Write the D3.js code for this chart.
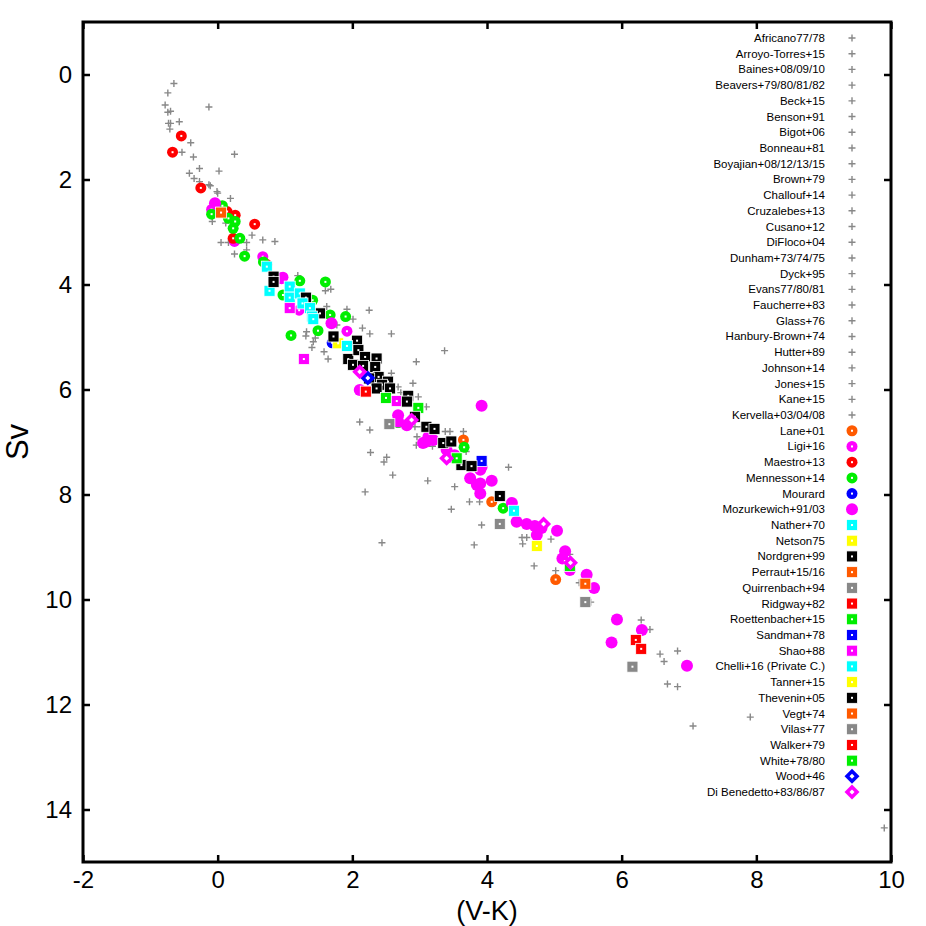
<!DOCTYPE html>
<html>
<head>
<meta charset="utf-8">
<script src="https://cdn.jsdelivr.net/npm/d3@7/dist/d3.min.js"></script>
<style>
  body { margin: 0; background: #fff; }
  svg { font-family: "Liberation Sans", Arial, sans-serif; }
</style>
</head>
<body>
<div id="chart"></div>
<script>
// ---- data: (V-K), Sv ----
const plusSeriesNames = [
  "Africano77/78", "Arroyo-Torres+15", "Baines+08/09/10", "Beavers+79/80/81/82",
  "Beck+15", "Benson+91", "Bigot+06", "Bonneau+81", "Boyajian+08/12/13/15",
  "Brown+79", "Challouf+14", "Cruzalebes+13", "Cusano+12", "DiFloco+04",
  "Dunham+73/74/75", "Dyck+95", "Evans77/80/81", "Faucherre+83", "Glass+76",
  "Hanbury-Brown+74", "Hutter+89", "Johnson+14", "Jones+15", "Kane+15",
  "Kervella+03/04/08"
];

// all grey "+" points of the series above
const plusPoints = [
  [-0.65, 0.17], [-0.74, 0.35], [-0.78, 0.58], [-0.74, 0.72], [-0.70, 0.70],
  [-0.73, 0.93], [-0.70, 0.93], [-0.57, 0.90], [-0.71, 1.04], [-0.13, 0.62],
  [-0.40, 1.30], [-0.53, 1.48], [-0.36, 1.57], [0.25, 1.52], [-0.27, 1.79],
  [-0.42, 1.88], [-0.35, 1.98], [-0.27, 2.04], [0.02, 1.84], [-0.13, 2.10],
  [-0.11, 2.12], [-0.01, 2.23], [0.00, 2.26], [0.19, 2.36], [-0.08, 2.80],
  [0.12, 2.83], [0.51, 3.06], [0.67, 3.15], [0.85, 3.18], [0.05, 3.20],
  [0.16, 3.20], [0.43, 3.20], [0.43, 3.34], [0.25, 3.42], [1.19, 3.83],
  [1.60, 4.12], [1.68, 4.09], [1.62, 4.42], [1.92, 4.47], [2.25, 4.49],
  [2.01, 4.66], [1.32, 4.90], [1.31, 4.98], [1.45, 5.02], [1.42, 5.09],
  [1.40, 5.20], [1.58, 5.28], [1.64, 5.42], [1.77, 4.77], [2.15, 4.83],
  [2.26, 4.94], [2.58, 4.94], [3.37, 5.26], [2.95, 5.47], [2.11, 6.62],
  [2.26, 6.77], [2.27, 7.20], [2.51, 7.29], [2.47, 7.38], [2.60, 7.63],
  [2.19, 7.95], [2.44, 8.92], [3.12, 7.74], [2.68, 5.95], [2.90, 5.88],
  [2.98, 6.14], [2.58, 5.69], [3.10, 6.33], [2.72, 6.06], [2.93, 6.71],
  [3.03, 6.71], [2.96, 6.90], [2.95, 7.06], [3.19, 7.08], [3.38, 6.80],
  [3.45, 6.80], [3.65, 6.80], [3.69, 7.18], [3.52, 7.85], [4.32, 7.48],
  [3.74, 8.14], [3.89, 8.14], [3.47, 8.28], [3.92, 8.58], [3.81, 8.96],
  [4.52, 8.82], [4.59, 8.82], [4.53, 8.94], [4.95, 8.85], [4.70, 9.36],
  [5.02, 9.45], [5.23, 9.14], [5.37, 9.68], [5.54, 10.05], [6.29, 10.39],
  [6.42, 10.57], [6.57, 11.04], [6.63, 11.18], [6.83, 10.98], [6.68, 11.61],
  [6.83, 11.66], [7.06, 12.41], [7.91, 12.24], [9.90, 14.35]
];

const lane = [[3.65, 6.96], [4.07, 8.14], [5.02, 9.62]];
const ligi = [[-0.09, 2.57], [0.25, 3.18], [0.67, 3.47], [0.97, 3.86], [1.21, 4.49], [1.92, 4.89]];
const maestro = [[-0.54, 1.17], [-0.67, 1.48], [-0.25, 2.16], [0.26, 2.68], [0.55, 2.85],
  [0.14, 2.61], [0.23, 3.12], [0.73, 3.62]];
const mennesson = [[0.07, 2.50], [0.16, 2.74], [0.26, 2.80], [0.23, 2.93], [-0.09, 2.66],
  [0.33, 3.12], [0.40, 3.46], [0.68, 3.57], [1.22, 3.93], [1.60, 3.95], [0.97, 4.20],
  [1.67, 4.58], [1.41, 4.30], [1.90, 4.61], [1.09, 4.97], [1.49, 4.88], [2.68, 6.63],
  [3.66, 7.10], [4.24, 8.26]];
const mourard = [[1.70, 5.11]];
const mozurkewich = [[-0.04, 2.45], [0.95, 3.88], [1.69, 4.74], [2.11, 6.01], [2.68, 6.49],
  [2.68, 6.61], [2.81, 6.68], [3.10, 6.99], [3.13, 6.90], [3.05, 7.02], [3.20, 6.96],
  [3.40, 7.15], [3.45, 7.28], [3.52, 7.25], [3.92, 6.31], [3.92, 7.47], [3.90, 7.53],
  [3.75, 7.69], [3.90, 7.79], [4.07, 7.74], [3.85, 7.82], [3.90, 7.98], [4.37, 8.16],
  [4.44, 8.52], [4.59, 8.56], [4.71, 8.60], [4.81, 8.64], [4.74, 8.77], [5.04, 8.69],
  [5.16, 9.08], [5.12, 9.22], [5.23, 9.44], [5.48, 9.53], [5.59, 9.78], [5.93, 10.38],
  [6.30, 10.58], [5.85, 10.82], [6.97, 11.26]];
const nather = [[0.73, 3.66], [0.77, 4.12], [1.07, 4.04], [1.07, 4.25], [1.22, 4.17]];
const netson = [[1.79, 5.12]];
const nordgren = [[0.83, 3.85], [0.83, 3.95], [1.31, 4.25], [1.52, 4.55], [1.72, 4.99],
  [2.07, 5.07], [1.94, 5.42], [2.09, 5.25], [2.19, 5.38], [2.36, 5.41], [2.01, 5.53],
  [2.16, 5.55], [2.34, 5.57], [2.39, 5.76], [2.53, 5.85], [2.44, 5.91], [2.25, 5.79],
  [2.56, 5.98], [2.36, 5.98]];
const perraut = [[0.05, 2.63]];
const quirrenbach = [[2.55, 6.66], [6.16, 11.28]];
const ridgway = [[6.21, 10.77], [6.29, 10.94]];
const roettenbacher = [[2.50, 6.16], [2.98, 6.35]];
const sandman = [[3.92, 7.36]];
const shao = [[1.07, 4.45], [1.28, 5.42], [2.66, 6.22]];
const chelli = [[1.26, 4.36], [1.37, 4.45], [1.40, 4.61], [1.42, 4.66], [1.92, 5.17], [4.40, 8.31]];
const tanner = [[4.74, 8.98]];
const thevenin = [[2.83, 6.12], [2.81, 6.23], [2.93, 6.52], [3.10, 6.71], [3.22, 6.75],
  [3.35, 7.02], [3.47, 6.99], [3.62, 7.44], [3.77, 7.46], [4.19, 8.03]];
const vegt = [[5.46, 9.70]];
const vilas = [[4.19, 8.56], [5.46, 10.05]];
const walker = [[2.20, 6.04]];
const white = [[3.55, 7.31], [5.23, 9.36]];
const wood = [[2.23, 5.78]];
const diBenedetto = [[2.11, 5.66], [2.88, 6.58], [3.40, 7.31], [4.84, 8.56], [5.24, 9.30]];

const xTicks = [-2, 0, 2, 4, 6, 8, 10];
const yTicks = [0, 2, 4, 6, 8, 10, 12, 14];

// ---- series table (legend order = draw order) ----
const series = plusSeriesNames.map((name, i) => ({
  name, data: i === 0 ? plusPoints : [], shape: "plus", color: "#888888"
})).concat([
  { name: "Lane+01", data: lane, shape: "circle", color: "#ff5a00" },
  { name: "Ligi+16", data: ligi, shape: "circle", color: "#ff00ff" },
  { name: "Maestro+13", data: maestro, shape: "circle", color: "#ff0000" },
  { name: "Mennesson+14", data: mennesson, shape: "circle", color: "#00ee00" },
  { name: "Mourard", data: mourard, shape: "circle", color: "#0000ff" },
  { name: "Mozurkewich+91/03", data: mozurkewich, shape: "bigcircle", color: "#ff00ff" },
  { name: "Nather+70", data: nather, shape: "square", color: "#00ffff" },
  { name: "Netson75", data: netson, shape: "square", color: "#ffff00" },
  { name: "Nordgren+99", data: nordgren, shape: "square", color: "#000000" },
  { name: "Perraut+15/16", data: perraut, shape: "square", color: "#ff5a00" },
  { name: "Quirrenbach+94", data: quirrenbach, shape: "square", color: "#888888" },
  { name: "Ridgway+82", data: ridgway, shape: "square", color: "#ff0000" },
  { name: "Roettenbacher+15", data: roettenbacher, shape: "square", color: "#00ee00" },
  { name: "Sandman+78", data: sandman, shape: "square", color: "#0000ff" },
  { name: "Shao+88", data: shao, shape: "square", color: "#ff00ff" },
  { name: "Chelli+16 (Private C.)", data: chelli, shape: "square", color: "#00ffff" },
  { name: "Tanner+15", data: tanner, shape: "square", color: "#ffff00" },
  { name: "Thevenin+05", data: thevenin, shape: "square", color: "#000000" },
  { name: "Vegt+74", data: vegt, shape: "square", color: "#ff5a00" },
  { name: "Vilas+77", data: vilas, shape: "square", color: "#888888" },
  { name: "Walker+79", data: walker, shape: "square", color: "#ff0000" },
  { name: "White+78/80", data: white, shape: "square", color: "#00ee00" },
  { name: "Wood+46", data: wood, shape: "diamond", color: "#0000ff" },
  { name: "Di Benedetto+83/86/87", data: diBenedetto, shape: "diamond", color: "#ff00ff" }
]);

// ---- chart area ----
const width = 926, height = 926;
const margin = { left: 83, right: 35, top: 22, bottom: 64 };

const svg = d3.select("#chart")
  .append("svg")
  .attr("width", width)
  .attr("height", height);

const xScale = d3.scaleLinear().domain([-2, 10]).range([margin.left, width - margin.right]);
const yScale = d3.scaleLinear().domain([-1, 15]).range([margin.top, height - margin.bottom]);

// draws one marker at (cx, cy) into group g
function drawMarker(g, shape, color, cx, cy) {
  if (shape === "plus") {
    g.append("path")
      .attr("d", `M${cx - 3.5},${cy}H${cx + 3.5}M${cx},${cy - 3.5}V${cy + 3.5}`)
      .attr("stroke", color)
      .attr("stroke-width", 1.4);
  } else if (shape === "circle" || shape === "bigcircle") {
    g.append("circle")
      .attr("cx", cx).attr("cy", cy)
      .attr("r", shape === "bigcircle" ? 6 : 5.5)
      .attr("fill", color);
    if (shape === "circle") {
      g.append("rect")
        .attr("x", cx - 1).attr("y", cy - 1)
        .attr("width", 2).attr("height", 2)
        .attr("fill", "#fff");
    }
  } else if (shape === "square") {
    g.append("rect")
      .attr("x", cx - 5.5).attr("y", cy - 5.5)
      .attr("width", 11).attr("height", 11)
      .attr("fill", color)
      .attr("stroke", "#fff")
      .attr("stroke-width", 0.8);
    g.append("rect")
      .attr("x", cx - 1).attr("y", cy - 1)
      .attr("width", 2).attr("height", 2)
      .attr("fill", "#fff");
  } else if (shape === "diamond") {
    g.append("path")
      .attr("d", `M${cx},${cy - 7.5}L${cx + 7.5},${cy}L${cx},${cy + 7.5}L${cx - 7.5},${cy}Z`)
      .attr("fill", color);
    g.append("path")
      .attr("d", `M${cx},${cy - 2.5}L${cx + 2.5},${cy}L${cx},${cy + 2.5}L${cx - 2.5},${cy}Z`)
      .attr("fill", "#fff");
  }
}

// ---- points ----
const pointsG = svg.append("g").attr("class", "points");
series.forEach(s => {
  const g = pointsG.append("g");
  s.data.forEach(d => drawMarker(g, s.shape, s.color, xScale(d[0]), yScale(d[1])));
});

// ---- legend ----
const legend = svg.append("g").attr("class", "legend");
series.forEach((s, i) => {
  const ly = 38 + i * 15.71;
  legend.append("text")
    .attr("x", 825)
    .attr("y", ly + 4)
    .attr("text-anchor", "end")
    .attr("font-size", 11.5)
    .text(s.name);
  drawMarker(legend, s.shape, s.color, 852, ly);
});

// ---- axes (ticks inward, mirrored) ----
const tick = 7;
const fmt = d => String(d);

svg.append("g")
  .attr("class", "axis x-axis")
  .attr("transform", `translate(0,${height - margin.bottom})`)
  .call(d3.axisBottom(xScale).tickValues(xTicks).tickSize(-tick).tickPadding(9).tickFormat(fmt))
  .call(g => g.select(".domain").remove())
  .call(g => g.selectAll("text").attr("font-size", 24).attr("font-family", "Liberation Sans, Arial, sans-serif"));

svg.append("g")
  .attr("transform", `translate(0,${margin.top})`)
  .call(d3.axisTop(xScale).tickValues(xTicks).tickSize(-tick).tickFormat(""))
  .call(g => g.select(".domain").remove());

svg.append("g")
  .attr("class", "axis y-axis")
  .attr("transform", `translate(${margin.left},0)`)
  .call(d3.axisLeft(yScale).tickValues(yTicks).tickSize(-tick).tickPadding(11).tickFormat(fmt))
  .call(g => g.select(".domain").remove())
  .call(g => g.selectAll("text").attr("font-size", 24).attr("font-family", "Liberation Sans, Arial, sans-serif"));

svg.append("g")
  .attr("transform", `translate(${width - margin.right},0)`)
  .call(d3.axisRight(yScale).tickValues(yTicks).tickSize(-tick).tickFormat(""))
  .call(g => g.select(".domain").remove());

svg.selectAll(".tick line").attr("stroke", "#000").attr("stroke-width", 2.5);

// frame
svg.append("rect")
  .attr("x", margin.left)
  .attr("y", margin.top)
  .attr("width", width - margin.left - margin.right)
  .attr("height", height - margin.top - margin.bottom)
  .attr("fill", "none")
  .attr("stroke", "#000")
  .attr("stroke-width", 3);

// axis labels
svg.append("text")
  .attr("x", 487)
  .attr("y", 920)
  .attr("text-anchor", "middle")
  .attr("font-size", 27)
  .text("(V-K)");

svg.append("text")
  .attr("transform", `translate(28,442) rotate(-90)`)
  .attr("text-anchor", "middle")
  .attr("font-size", 31)
  .text("Sv");
</script>
</body>
</html>
